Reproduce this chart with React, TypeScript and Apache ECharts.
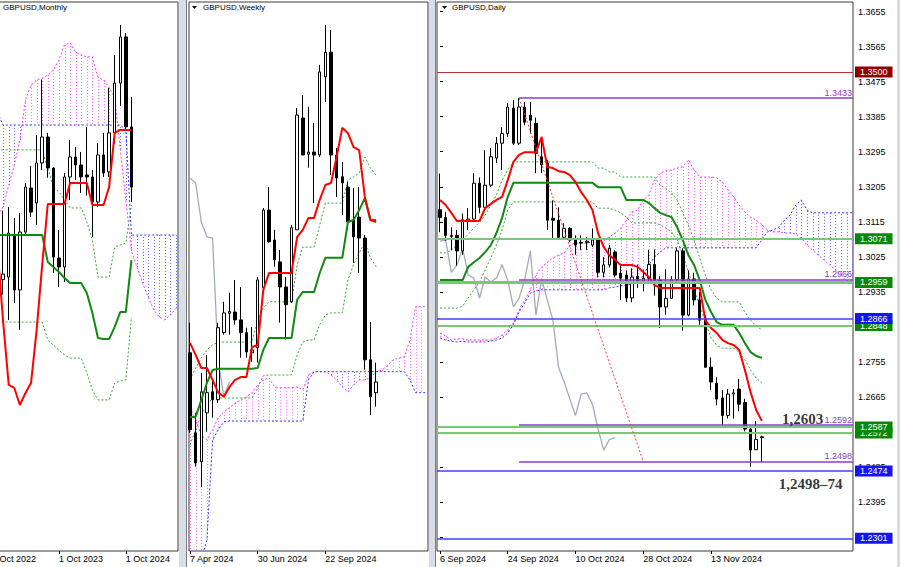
import React, { useEffect, useRef } from 'react';
import * as echarts from 'echarts';

const FONT = '"Liberation Sans", Arial, sans-serif';
const SERIF = '"Liberation Serif", "Times New Roman", serif';

// ---------------- Monthly (index 0 = Oct 2022) ----------------
const mCandleStart = 2;
const mOpen = [1.2070,1.2084,1.2309,1.2015,1.2325,1.2561,1.2481,1.2695,1.2834,1.2668,1.2186,1.2138,1.2620,1.2727,1.2684,1.2631,1.2620,1.2486,1.2738,1.2647,1.2856,1.3123,1.3370,1.2888];
const mHigh = [1.2440,1.2459,1.2400,1.2427,1.2588,1.2680,1.2845,1.3142,1.2856,1.2673,1.2336,1.2641,1.2818,1.2781,1.2754,1.2888,1.2657,1.2802,1.2856,1.3097,1.3273,1.3434,1.3391,1.3048];
const mLow = [1.1990,1.1854,1.1945,1.1801,1.2309,1.2406,1.2363,1.2657,1.2616,1.2106,1.2031,1.2057,1.2497,1.2604,1.2534,1.2520,1.2298,1.2459,1.2620,1.2620,1.2800,1.3000,1.2872,1.2486];
const mClose = [1.2100,1.2320,1.2015,1.2325,1.2566,1.2432,1.2695,1.2834,1.2668,1.2191,1.2138,1.2620,1.2727,1.2684,1.2620,1.2620,1.2486,1.2738,1.2641,1.2856,1.3123,1.3370,1.2888,1.2566];
const mLineStart = 1;
const mTenkan = [1.2229,1.1843,1.1506,1.1490,1.1399,1.1463,1.1517,1.1800,1.2149,1.2475,1.2475,1.2475,1.2475,1.2588,1.2588,1.2588,1.2588,1.2470,1.2470,1.2470,1.2566,1.2856,1.2872,1.2872,1.2872];
const mKijun = [1.2309,1.2309,1.2309,1.2309,1.2309,1.2309,1.2309,1.2309,1.2309,1.2165,1.2138,1.2111,1.2079,1.2052,1.2052,1.2052,1.1999,1.1892,1.1758,1.1752,1.1752,1.1817,1.1897,1.1897,1.2175];
const mUpper = [1.2765,1.2765,1.2765,1.2765,1.2765,1.2765,1.2765,1.2765,1.2765,1.2668,1.2566,1.2540,1.2497,1.2454,1.2454,1.2454,1.2379,1.2282,1.2084,1.2084,1.2084,1.2245,1.2256,1.2266,1.2470];
const mLower = [1.1843,1.1843,1.1843,1.1843,1.1843,1.1843,1.1843,1.1843,1.1843,1.1747,1.1720,1.1693,1.1667,1.1650,1.1650,1.1650,1.1570,1.1479,1.1426,1.1426,1.1426,1.1517,1.1527,1.1533,1.1870];
const mSpanStart = 1;
const mSpanA = [1.2416,1.2459,1.2577,1.2684,1.2818,1.3032,1.3113,1.3139,1.3150,1.3166,1.3193,1.3247,1.3327,1.3338,1.3289,1.3273,1.3263,1.3263,1.3155,1.3139,1.3097,1.3048,1.2770,1.2497,1.2224,1.2138,1.2052,1.1977,1.1908,1.1870,1.1854,1.1881,1.1918];
const mSpanB = [1.2963,1.2898,1.2898,1.2898,1.2898,1.2898,1.2898,1.2898,1.2898,1.2898,1.2898,1.2898,1.2898,1.2898,1.2898,1.2898,1.2898,1.2898,1.2898,1.2898,1.2898,1.2898,1.2898,1.2872,1.2309,1.2309,1.2309,1.2309,1.2309,1.2309,1.2309,1.2309,1.2309];
const mTickIdx = [0, 12, 24];
const mTickLabels = ['1 Oct 2022', '1 Oct 2023', '1 Oct 2024'];

// ---------------- Weekly (index 0 = 7 Apr 2024) ----------------
const wOpen = [1.2637,1.2442,1.2372,1.2491,1.2542,1.2523,1.2686,1.2733,1.2736,1.2717,1.2686,1.2637,1.2649,1.2795,1.2984,1.2911,1.2858,1.2797,1.2761,1.2936,1.3208,1.3120,1.3125,1.3118,1.3308,1.3368,1.3118,1.3065,1.3040,1.2960,1.2967,1.2916,1.2620,1.2540];
const wHigh = [1.2710,1.2491,1.2588,1.2632,1.2571,1.2710,1.2761,1.2783,1.2814,1.2797,1.2698,1.2700,1.2821,1.2989,1.3040,1.2936,1.2887,1.2821,1.2948,1.3232,1.3264,1.3235,1.3196,1.3337,1.3434,1.3422,1.3135,1.3101,1.3052,1.3038,1.3040,1.2924,1.2712,1.2613];
const wLow = [1.2442,1.2360,1.2311,1.2445,1.2479,1.2515,1.2681,1.2681,1.2705,1.2625,1.2625,1.2615,1.2613,1.2790,1.2905,1.2846,1.2710,1.2669,1.2758,1.2936,1.3118,1.3087,1.3001,1.3113,1.3247,1.3069,1.3016,1.2972,1.2936,1.2856,1.2831,1.2596,1.2486,1.2506];
const wClose = [1.2450,1.2369,1.2542,1.2540,1.2523,1.2698,1.2734,1.2737,1.2717,1.2686,1.2639,1.2644,1.2814,1.2984,1.2907,1.2863,1.2797,1.2754,1.2941,1.3215,1.3118,1.3125,1.3118,1.3320,1.3368,1.3118,1.3062,1.3050,1.2955,1.2919,1.2916,1.2620,1.2530,1.2566];
const wTenkan = [1.2661,1.2632,1.2600,1.2600,1.2571,1.2540,1.2530,1.2554,1.2571,1.2578,1.2578,1.2651,1.2656,1.2790,1.2831,1.2831,1.2831,1.2831,1.2831,1.2919,1.2936,1.2965,1.2965,1.3009,1.3045,1.3050,1.3113,1.3184,1.3171,1.3137,1.3130,1.3016,1.2960,1.2955];
const wKijun = [1.2481,1.2481,1.2522,1.2564,1.2595,1.2598,1.2598,1.2598,1.2598,1.2598,1.2598,1.2598,1.2600,1.2644,1.2673,1.2673,1.2673,1.2673,1.2673,1.2766,1.2785,1.2785,1.2785,1.2831,1.2868,1.2868,1.2868,1.2868,1.2955,1.2960,1.2984,1.3013,1.2960,1.2960];
const wUpper = [1.2571,1.2600,1.2624,1.2644,1.2656,1.2663,1.2663,1.2663,1.2663,1.2663,1.2663,1.2663,1.2717,1.2746,1.2761,1.2761,1.2761,1.2761,1.2761,1.2851,1.2894,1.2894,1.2894,1.2948,1.3001,1.3001,1.3001,1.3001,1.3057,1.3065,1.3074,1.3113,1.3086,1.3069];
const wLower = [1.2413,1.2450,1.2486,1.2510,1.2527,1.2527,1.2527,1.2527,1.2527,1.2527,1.2527,1.2527,1.2552,1.2581,1.2583,1.2583,1.2583,1.2583,1.2583,1.2632,1.2663,1.2668,1.2668,1.2705,1.2729,1.2734,1.2734,1.2734,1.2814,1.2851,1.2880,1.2905,1.2868,1.2846];
const wChikou = [1.3062,1.3050,1.2955,1.2919,1.2916,1.2620,1.2530,1.2566];
const wSpanA = [1.2505,1.2474,1.2437,1.2425,1.2450,1.2479,1.2493,1.2503,1.2515,1.2522,1.2530,1.2540,1.2559,1.2571,1.2576,1.2554,1.2552,1.2552,1.2552,1.2554,1.2547,1.2583,1.2591,1.2591,1.2591,1.2583,1.2571,1.2554,1.2542,1.2559,1.2571,1.2571,1.2576,1.2591,1.2595,1.2605,1.2620,1.2624,1.2627,1.2668,1.2749,1.2749,1.2749];
const wSpanB = [1.2036,1.2085,1.2134,1.2182,1.2425,1.2450,1.2469,1.2471,1.2471,1.2471,1.2471,1.2471,1.2471,1.2471,1.2471,1.2471,1.2471,1.2471,1.2471,1.2471,1.2471,1.2571,1.2591,1.2591,1.2591,1.2591,1.2591,1.2591,1.2591,1.2591,1.2591,1.2591,1.2591,1.2591,1.2591,1.2591,1.2591,1.2591,1.2591,1.2571,1.2540,1.2540,1.2540];
const wTickIdx = [0, 12, 24];
const wTickLabels = ['7 Apr 2024', '30 Jun 2024', '22 Sep 2024'];

// ---------------- Daily (index 0 = 6 Sep 2024) ----------------
const dOpen = [1.3146,1.3126,1.3077,1.3080,1.3040,1.3118,1.3122,1.3214,1.3152,1.3209,1.3279,1.3317,1.3342,1.3407,1.3317,1.3410,1.3389,1.3368,1.3282,1.3266,1.3124,1.3119,1.3075,1.3098,1.3070,1.3062,1.3062,1.3055,1.3068,1.2985,1.3004,1.3037,1.2983,1.2978,1.2919,1.2975,1.2960,1.2970,1.3005,1.2965,1.2896,1.2918,1.2966,1.3040,1.2875,1.2968,1.2914,1.2867,1.2741,1.2700,1.2662,1.2617,1.2672,1.2685,1.2650,1.2582,1.2529,1.2562];
const dHigh = [1.3239,1.3140,1.3101,1.3094,1.3136,1.3150,1.3240,1.3229,1.3299,1.3305,1.3333,1.3358,1.3420,1.3428,1.3433,1.3423,1.3423,1.3383,1.3333,1.3274,1.3170,1.3152,1.3111,1.3101,1.3080,1.3080,1.3075,1.3098,1.3073,1.3024,1.3055,1.3042,1.3006,1.2990,1.2995,1.3005,1.2990,1.3043,1.3044,1.2975,1.2993,1.2975,1.3047,1.3047,1.2990,1.2984,1.2935,1.2874,1.2766,1.2715,1.2682,1.2685,1.2685,1.2711,1.2660,1.2584,1.2603,1.2565];
const dLow = [1.3088,1.3066,1.3042,1.3002,1.3030,1.3094,1.3114,1.3137,1.3145,1.3204,1.3266,1.3248,1.3333,1.3312,1.3312,1.3363,1.3342,1.3240,1.3240,1.3094,1.3068,1.3068,1.3068,1.3062,1.3030,1.3042,1.3042,1.3050,1.2972,1.2972,1.2998,1.2972,1.2914,1.2909,1.2908,1.2945,1.2936,1.2955,1.2925,1.2842,1.2876,1.2917,1.2960,1.2835,1.2872,1.2900,1.2850,1.2740,1.2683,1.2643,1.2592,1.2609,1.2609,1.2628,1.2576,1.2485,1.2528,1.2497];
const dClose = [1.3126,1.3080,1.3080,1.3040,1.3120,1.3122,1.3214,1.3152,1.3209,1.3282,1.3317,1.3342,1.3410,1.3317,1.3410,1.3371,1.3376,1.3291,1.3261,1.3119,1.3119,1.3075,1.3098,1.3068,1.3055,1.3060,1.3065,1.3068,1.2985,1.3004,1.3047,1.2978,1.2970,1.2919,1.2973,1.2960,1.2970,1.3005,1.2965,1.2896,1.2918,1.2966,1.3040,1.2875,1.2968,1.2914,1.2862,1.2741,1.2703,1.2659,1.2617,1.2672,1.2675,1.2646,1.2582,1.2528,1.2555,1.2560];
const dTenkan = [1.3171,1.3158,1.3138,1.3117,1.3117,1.3117,1.3117,1.3117,1.3150,1.3161,1.3171,1.3179,1.3222,1.3269,1.3287,1.3294,1.3294,1.3294,1.3333,1.3256,1.3253,1.3245,1.3243,1.3235,1.3217,1.3191,1.3171,1.3145,1.3086,1.3050,1.3029,1.3017,1.3004,1.3004,1.3004,1.2999,1.2986,1.2973,1.2952,1.2945,1.2945,1.2945,1.2945,1.2945,1.2945,1.2945,1.2945,1.2862,1.2842,1.2829,1.2811,1.2803,1.2798,1.2785,1.2734,1.2677,1.2631,1.2603];
const dKijun = [1.2965,1.2965,1.2965,1.2965,1.2965,1.2999,1.3011,1.3022,1.3037,1.3055,1.3086,1.3125,1.3179,1.3215,1.3215,1.3215,1.3215,1.3215,1.3215,1.3215,1.3215,1.3215,1.3215,1.3215,1.3215,1.3215,1.3215,1.3215,1.3204,1.3204,1.3204,1.3204,1.3204,1.3171,1.3171,1.3171,1.3171,1.3163,1.3150,1.3138,1.3132,1.3127,1.3101,1.3068,1.3029,1.3004,1.2965,1.2914,1.2883,1.2857,1.2850,1.2850,1.2850,1.2829,1.2803,1.2780,1.2770,1.2765];
const dUpper = [1.3035,1.3035,1.3042,1.3055,1.3068,1.3083,1.3099,1.3114,1.3132,1.3158,1.3184,1.3222,1.3248,1.3269,1.3269,1.3269,1.3269,1.3269,1.3269,1.3269,1.3269,1.3269,1.3269,1.3269,1.3269,1.3269,1.3269,1.3269,1.3253,1.3253,1.3243,1.3243,1.3230,1.3230,1.3230,1.3230,1.3230,1.3230,1.3230,1.3209,1.3201,1.3189,1.3171,1.3138,1.3107,1.3068,1.3022,1.2978,1.2940,1.2919,1.2909,1.2909,1.2909,1.2909,1.2883,1.2862,1.2847,1.2837];
const dLower = [1.2893,1.2893,1.2893,1.2893,1.2898,1.2919,1.2940,1.2960,1.2991,1.3022,1.3055,1.3094,1.3145,1.3166,1.3166,1.3166,1.3166,1.3166,1.3166,1.3166,1.3166,1.3166,1.3166,1.3166,1.3166,1.3166,1.3166,1.3166,1.3150,1.3150,1.3150,1.3145,1.3138,1.3127,1.3112,1.3112,1.3112,1.3112,1.3112,1.3107,1.3099,1.3089,1.3068,1.3029,1.2986,1.2940,1.2901,1.2857,1.2816,1.2798,1.2790,1.2790,1.2790,1.2780,1.2760,1.2734,1.2713,1.2700];
const dChikou = [1.3065,1.3068,1.2985,1.3004,1.3047,1.2978,1.2970,1.2919,1.2973,1.2960,1.2970,1.3005,1.2965,1.2896,1.2918,1.2966,1.3040,1.2875,1.2968,1.2914,1.2862,1.2741,1.2703,1.2659,1.2617,1.2672,1.2675,1.2646,1.2582,1.2528,1.2555,1.2560];
const dSpanA = [1.2829,1.2821,1.2811,1.2814,1.2814,1.2811,1.2811,1.2811,1.2811,1.2811,1.2816,1.2824,1.2837,1.2855,1.2888,1.2914,1.2940,1.2978,1.2999,1.3011,1.3022,1.3029,1.3035,1.3055,1.3060,1.3060,1.3060,1.3063,1.3068,1.3068,1.3076,1.3086,1.3099,1.3119,1.3140,1.3145,1.3171,1.3184,1.3222,1.3240,1.3246,1.3248,1.3253,1.3256,1.3274,1.3248,1.3230,1.3230,1.3230,1.3228,1.3217,1.3197,1.3179,1.3158,1.3140,1.3127,1.3119,1.3107,1.3094,1.3089,1.3089,1.3086,1.3086,1.3084,1.3073,1.3055,1.3042,1.3029,1.3017,1.3004,1.2991,1.2978,1.2963,1.2958];
const dSpanB = [1.2816,1.2811,1.2808,1.2806,1.2808,1.2806,1.2806,1.2806,1.2806,1.2808,1.2811,1.2816,1.2829,1.2850,1.2883,1.2906,1.2932,1.2937,1.2940,1.2940,1.2940,1.2940,1.2940,1.2940,1.2940,1.2940,1.2940,1.2940,1.2940,1.2940,1.2945,1.2947,1.2950,1.2952,1.2955,1.2958,1.2978,1.3004,1.3024,1.3037,1.3048,1.3048,1.3048,1.3048,1.3048,1.3048,1.3048,1.3048,1.3048,1.3048,1.3048,1.3048,1.3048,1.3048,1.3048,1.3048,1.3048,1.3068,1.3089,1.3094,1.3101,1.3119,1.3132,1.3158,1.3171,1.3145,1.3138,1.3138,1.3138,1.3138,1.3138,1.3138,1.3138,1.3138];
const dTickIdx = [0, 12, 24, 36, 48];
const dTickLabels = ['6 Sep 2024', '24 Sep 2024', '10 Oct 2024', '28 Oct 2024', '13 Nov 2024'];
const dAxisTicks = [1.3655,1.3565,1.3475,1.3385,1.3295,1.3205,1.3115,1.3025,1.2935,1.2755,1.2665,1.2485,1.2395,1.2305];

// horizontal levels on the daily chart
const levelValues = [1.3500, 1.3071, 1.2959, 1.2848, 1.2866, 1.2572, 1.2587, 1.2474, 1.2301];
const levelKinds = ['red', 'green', 'green', 'green', 'blue', 'green', 'green', 'blue', 'blue'];
const purpleLevels = [1.3433, 1.2966, 1.2592, 1.2498];
const purpleFromIdx = 14;
const trendFrom = [14, 1.3433];
const trendTo = [36, 1.2498];
const annTexts = ['1,2603', '1,2498–74'];
const annIdx = [60.5, 59.9];
const annVals = [1.2608, 1.2441];

// axis ranges
const M_X = [0, 33.35], M_Y = [1.0617, 1.3557];
const W_X = [-0.177, 42.2], W_Y = [1.2155, 1.3490];
const D_X = [-0.531, 73.15], D_Y = [1.22685, 1.3680];

// the chart canvas is shifted left so the monthly window appears cut, as in the screenshot
const SHIFT = 11;

const PINK = '#ff33ff', BLUE = '#3535ff', HPINK = '#ff66ff', HBLUE = '#6a6aff';
const DOTGREEN = '#33a833', PURPLE = '#8a3fc8';

const pts = (arr: number[], start: number) => arr.map((v, i) => [start + i, v]);

const renderHatch = (_p: any, api: any) => {
  const x = api.value(0), a = api.value(1), b = api.value(2);
  const p1 = api.coord([x, a]);
  const p2 = api.coord([x, b]);
  const px = Math.round(p1[0]) + 0.5;
  return {
    type: 'line',
    shape: { x1: px, y1: p1[1], x2: px, y2: p2[1] },
    style: { stroke: a >= b ? HPINK : HBLUE, lineWidth: 1, lineDash: [1, 2] },
    silent: true,
  };
};

const line = (g: number, data: any[], color: string, width: number, type: any, z: number, extra: any = {}) => ({
  type: 'line', xAxisIndex: g, yAxisIndex: g, data, symbol: 'none', showSymbol: false, silent: true,
  z, lineStyle: { color, width, type }, emphasis: { disabled: true }, ...extra,
});

const panel = (g: number, p: any) => {
  const s: any[] = [
    {
      type: 'custom', xAxisIndex: g, yAxisIndex: g, renderItem: renderHatch, clip: true, silent: true, z: 1,
      encode: { x: 0, y: [1, 2] },
      data: p.spanA.map((a: number, i: number) => [p.spanStart + i, a, p.spanB[i]]),
    },
    line(g, pts(p.spanA, p.spanStart), PINK, 1, [2, 2], 1),
    line(g, pts(p.spanB, p.spanStart), BLUE, 1, [2, 2], 1),
    line(g, pts(p.upper, p.lineStart), DOTGREEN, 1, [2, 2], 2),
    line(g, pts(p.lower, p.lineStart), DOTGREEN, 1, [2, 2], 2),
    {
      type: 'candlestick', xAxisIndex: g, yAxisIndex: g, barWidth: 3, silent: true, z: 3,
      data: p.o.map((o: number, i: number) => [p.candleStart + i, o, p.c[i], p.l[i], p.h[i]]),
      itemStyle: { color: '#ffffff', color0: '#000000', borderColor: '#000000', borderColor0: '#000000', borderColorDoji: '#000000', borderWidth: 1 },
    },
    line(g, pts(p.kijun, p.lineStart), '#108a10', 2, 'solid', 4),
    line(g, pts(p.tenkan, p.lineStart), '#ff0000', 2, 'solid', 4),
  ];
  if (p.chikou) s.push(line(g, pts(p.chikou, 0), '#a3abbb', 1.3, 'solid', 2, p.chikouExtra || {}));
  return s;
};

const LEVEL_STYLE: any = {
  red: { line: '#b83232', width: 1, tag: '#8f0000' },
  green: { line: '#78c878', width: 2, tag: '#078807' },
  blue: { line: '#4040ff', width: 1.5, tag: '#1414f5' },
};

const levelLines = levelValues.map((v, i) => {
  const st = LEVEL_STYLE[levelKinds[i]];
  return {
    yAxis: v,
    lineStyle: { color: st.line, width: v === 1.2959 ? 3 : st.width, type: 'solid' },
    label: {
      show: true, position: 'end', distance: 2, formatter: v.toFixed(4), backgroundColor: st.tag,
      color: '#ffffff', fontSize: 9, lineHeight: 10, padding: [1, 5, 0, 5], fontFamily: FONT,
    },
  };
});
const purpleLines = purpleLevels.map((v) => [
  {
    coord: [purpleFromIdx, v], lineStyle: { color: PURPLE, width: 1.5, type: 'solid' },
    label: { show: true, position: 'insideEndTop', distance: 1, formatter: v.toFixed(4), color: PURPLE, fontSize: 9, fontFamily: FONT },
  },
  { coord: [D_X[1], v] },
]);
const trendLine = [
  { coord: trendFrom, lineStyle: { color: '#ff3b3b', width: 1, type: [2, 2] }, label: { show: false } },
  { coord: trendTo },
];

const xAx = (g: number, range: number[], idx: number[], labels: string[]) => ({
  type: 'value', gridIndex: g, min: range[0], max: range[1],
  axisLine: { show: false }, splitLine: { show: false },
  axisTick: { show: true, customValues: idx, length: 3, lineStyle: { color: '#000' } },
  axisLabel: {
    show: true, customValues: idx, align: 'left', fontSize: 9, color: '#000', margin: 3, fontFamily: FONT,
    formatter: (v: number) => { const k = idx.indexOf(Math.round(v)); return k >= 0 ? labels[k] : ''; },
  },
});

const buildOption = () => {
  const monthly = panel(0, {
    o: mOpen, h: mHigh, l: mLow, c: mClose, candleStart: mCandleStart, lineStart: mLineStart,
    tenkan: mTenkan, kijun: mKijun, upper: mUpper, lower: mLower, spanStart: mSpanStart, spanA: mSpanA, spanB: mSpanB,
  });
  const weekly = panel(1, {
    o: wOpen, h: wHigh, l: wLow, c: wClose, candleStart: 0, lineStart: 0,
    tenkan: wTenkan, kijun: wKijun, upper: wUpper, lower: wLower, spanStart: 0, spanA: wSpanA, spanB: wSpanB, chikou: wChikou,
  });
  const daily = panel(2, {
    o: dOpen, h: dHigh, l: dLow, c: dClose, candleStart: 0, lineStart: 0,
    tenkan: dTenkan, kijun: dKijun, upper: dUpper, lower: dLower, spanStart: 0, spanA: dSpanA, spanB: dSpanB, chikou: dChikou,
    chikouExtra: {
      clip: false,
      markLine: {
        silent: true, symbol: ['none', 'none'], animation: false, precision: 4, label: { show: false },
        emphasis: { disabled: true },
        data: [...levelLines, ...purpleLines, trendLine],
      },
    },
  });
  const ann = {
    type: 'scatter', xAxisIndex: 2, yAxisIndex: 2, symbolSize: 1, silent: true, clip: false, z: 6,
    itemStyle: { color: 'rgba(0,0,0,0)' },
    data: annTexts.map((_t, i) => [annIdx[i], annVals[i]]),
    label: {
      show: true, position: 'right', distance: 0, color: '#000', fontSize: 15, fontWeight: 'bold', fontFamily: SERIF,
      formatter: (p: any) => annTexts[p.dataIndex],
    },
  };
  const frame = { show: true, borderColor: '#3a3a3a', borderWidth: 1, backgroundColor: '#ffffff' };
  const S = SHIFT;
  return {
    animation: false,
    textStyle: { fontFamily: FONT },
    grid: [
      { left: 0, top: 2, width: 178 + S, height: 549, ...frame },
      { left: 189 + S, top: 2, width: 239, height: 549, ...frame },
      { left: 437 + S, top: 2, width: 416, height: 549, ...frame },
    ],
    xAxis: [
      xAx(0, M_X, mTickIdx, mTickLabels),
      xAx(1, W_X, wTickIdx, wTickLabels),
      xAx(2, D_X, dTickIdx, dTickLabels),
    ],
    yAxis: [
      { type: 'value', gridIndex: 0, min: M_Y[0], max: M_Y[1], show: false },
      { type: 'value', gridIndex: 1, min: W_Y[0], max: W_Y[1], show: false },
      {
        type: 'value', gridIndex: 2, position: 'right', min: D_Y[0], max: D_Y[1],
        axisLine: { show: false }, splitLine: { show: false },
        axisTick: { show: true, customValues: dAxisTicks, length: 3, lineStyle: { color: '#000' } },
        axisLabel: { show: true, customValues: dAxisTicks, formatter: (v: number) => v.toFixed(4), fontSize: 9, color: '#000', margin: 5, fontFamily: FONT },
      },
    ],
    series: [...monthly, ...weekly, ...daily, ann],
    graphic: [
      { type: 'rect', shape: { x: 179 + S, y: 0, width: 8, height: 567 }, style: { fill: '#d8dde6' }, z: 50 },
      { type: 'line', shape: { x1: 186.5 + S, y1: 0, x2: 186.5 + S, y2: 567 }, style: { stroke: '#7d7d7d', lineWidth: 1 }, z: 51 },
      { type: 'rect', shape: { x: 429 + S, y: 0, width: 7, height: 567 }, style: { fill: '#d8dde6' }, z: 50 },
      { type: 'line', shape: { x1: 435.5 + S, y1: 0, x2: 435.5 + S, y2: 567 }, style: { stroke: '#7d7d7d', lineWidth: 1 }, z: 51 },
      { type: 'rect', shape: { x: 897 + S, y: 0, width: 3, height: 567 }, style: { fill: '#d8dde6' }, z: 50 },
      { type: 'text', x: 3 + S, y: 3, z: 60, style: { text: 'GBPUSD,Monthly', fill: '#000', fontSize: 8, fontFamily: FONT } },
      { type: 'polygon', shape: { points: [[192 + S, 6], [197 + S, 6], [194.5 + S, 9]] }, style: { fill: '#000' }, z: 60 },
      { type: 'text', x: 203 + S, y: 3, z: 60, style: { text: 'GBPUSD,Weekly', fill: '#000', fontSize: 8, fontFamily: FONT } },
      { type: 'polygon', shape: { points: [[442 + S, 6], [447 + S, 6], [444.5 + S, 9]] }, style: { fill: '#000' }, z: 60 },
      { type: 'text', x: 452 + S, y: 3, z: 60, style: { text: 'GBPUSD,Daily', fill: '#000', fontSize: 8, fontFamily: FONT } },
    ],
  };
};

export default function App() {
  const ref = useRef<HTMLDivElement>(null);
  useEffect(() => {
    if (!ref.current) return;
    const chart = echarts.init(ref.current, null, { renderer: 'svg' });
    chart.setOption(buildOption() as any);
    return () => chart.dispose();
  }, []);
  return (
    <div style={{ position: 'fixed', left: 0, top: 0, width: 900, height: 567, overflow: 'hidden', background: '#ffffff' }}>
      <div
        ref={ref}
        style={{ position: 'absolute', left: -SHIFT, top: 0, width: 900 + SHIFT, height: 567 }}
      />
    </div>
  );
}
